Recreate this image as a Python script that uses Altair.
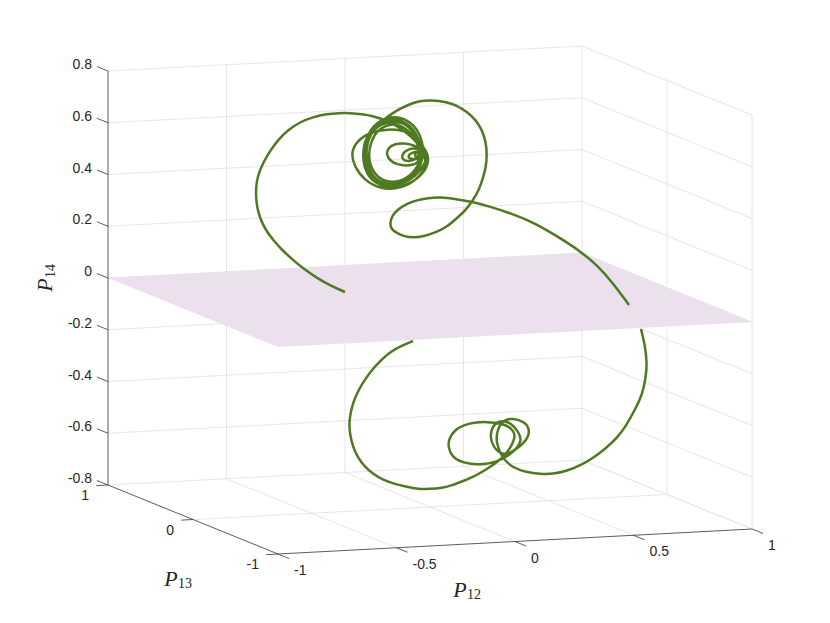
import altair as alt
import pandas as pd

# Axis ticks
p12_ticks = [-1, -0.5, 0, 0.5, 1]
p12_labels = ["-1", "-0.5", "0", "0.5", "1"]
p13_ticks = [-1, 0, 1]
p13_labels = ["-1", "0", "1"]
p14_ticks = [-0.8, -0.6, -0.4, -0.2, 0, 0.2, 0.4, 0.6, 0.8]
p14_labels = ["-0.8", "-0.6", "-0.4", "-0.2", "0", "0.2", "0.4", "0.6", "0.8"]

# Trajectory (view coordinates after the 3-D projection)
upper_x = [345, 331, 317, 304, 293, 282, 273, 265, 260, 257, 256, 256, 258, 263, 270, 278, 288, 300, 313, 327, 339, 350, 362, 373, 382, 390, 405, 418, 426,
           425, 414, 398, 380, 364, 354, 351, 357, 370, 388, 405, 418, 427, 429,
           425, 412, 396, 380, 368, 363, 363, 369, 380, 394, 408, 419, 424, 422, 411, 396, 381, 370, 365, 366, 373, 385, 400, 413, 421, 421, 411, 396, 382, 372, 368, 371, 378, 392, 405, 416, 420,
           421, 412, 398, 382, 370, 365, 364, 367, 377, 392, 406, 416, 422, 422, 413, 398, 383, 372, 367, 366, 370, 380, 394, 407, 416, 419,
           420, 414, 403, 392, 386, 388, 394, 404, 414, 420, 419, 410, 402, 402, 408, 417, 424, 423, 414, 408, 409, 416, 424, 425, 420, 413, 418, 426, 427,
           424, 416, 403, 388, 375, 366, 363, 365, 372, 383, 397, 410, 420, 430, 447, 458, 467, 476, 482, 486, 487, 486, 483, 479, 473, 466, 457, 448, 437, 425, 413, 403, 397, 391, 390, 392, 397, 406, 417, 428, 440, 456, 473, 491, 510, 535, 560, 580, 597, 613, 629]
upper_y = [292, 286, 278, 269, 260, 250, 240, 229, 218, 207, 197, 186, 175, 163, 151, 140, 130, 122, 117, 114, 113, 113, 114, 116, 119, 122, 131, 143, 155,
           170, 182, 189, 189, 180, 166, 152, 141, 132, 129, 130, 139, 152, 160,
           172, 183, 188, 186, 177, 163, 147, 131, 120, 116, 120, 131, 148, 165, 179, 185, 184, 174, 158, 143, 128, 119, 119, 128, 145, 162, 176, 183, 181, 171, 156, 141, 129, 123, 127, 139, 152,
           165, 178, 186, 186, 178, 165, 150, 135, 124, 120, 122, 132, 148, 163, 177, 184, 184, 176, 163, 148, 134, 124, 121, 124, 136, 150,
           161, 165, 166, 163, 155, 148, 144, 143, 145, 150, 157, 162, 160, 154, 149, 148, 152, 158, 160, 158, 154, 151, 152, 157, 159, 155, 152, 151, 158,
           165, 176, 184, 186, 180, 168, 150, 140, 130, 120, 110, 104, 101, 100, 102, 106, 112, 120, 130, 142, 155, 167, 178, 190, 200, 210, 218, 226, 232, 236, 238, 236, 233, 229, 223, 216, 210, 204, 200, 198, 197, 199, 202, 207, 213, 223, 238, 251, 265, 283, 305]
lower_x = [413, 401, 390, 380, 370, 362, 355, 351, 349, 350, 353, 358, 365, 373, 383, 395, 407, 418, 430, 442, 453, 463, 473, 482, 490, 497, 503, 508, 512, 515, 514, 510, 500, 487, 477, 463, 455, 449, 448,
           452, 463, 480, 497, 510, 518, 521, 520, 515, 507, 498, 492, 490, 493, 503, 514, 523, 529, 529, 525, 513, 503, 497, 496,
           502, 513, 526, 540, 553, 567, 581, 593, 605, 617, 626, 633, 640, 644, 646, 647, 645, 641]
lower_y = [341, 346, 352, 361, 372, 384, 397, 410, 423, 435, 447, 458, 467, 474, 480, 484, 487, 489, 489, 488, 485, 481, 477, 472, 467, 462, 457, 451, 445, 437, 432, 427, 423, 422, 422, 425, 430, 438, 447,
           457, 463, 465, 462, 455, 447, 441, 435, 427, 421, 421, 427, 437, 447, 456, 451, 444, 436, 428, 422, 418, 420, 430, 443,
           458, 468, 472, 474, 474, 471, 465, 458, 449, 438, 426, 413, 400, 387, 375, 363, 345, 329]


def px(u, v):
    return 430 + 237 * u - 85 * v


def py(u, v, w):
    return 300 - 12.5 * u - 34.5 * v - 258.75 * w


def segs(items):
    rows = []
    for k, pts in enumerate(items):
        for i, (u, v, w) in enumerate(pts):
            rows.append({"k": k, "i": i, "x": px(u, v), "y": py(u, v, w)})
    return pd.DataFrame(rows)


X = alt.X("x:Q", scale=alt.Scale(domain=[8, 822], nice=False, zero=False), axis=None)
Y = alt.Y("y:Q", scale=alt.Scale(domain=[608, 8], nice=False, zero=False), axis=None)


def lines(df, color, width):
    return alt.Chart(df).mark_line(color=color, strokeWidth=width, clip=False).encode(
        x=X, y=Y, detail="k:N", order="i:Q")


# Grid
grid = []
for w in p14_ticks:
    grid.append([(-1, 1, w), (1, 1, w), (1, -1, w)])
for u in p12_ticks[1:]:
    grid.append([(u, -1, -0.8), (u, 1, -0.8), (u, 1, 0.8)])
grid.append([(-1, 0, -0.8), (1, 0, -0.8), (1, 0, 0.8)])
grid.append([(1, -1, -0.8), (1, -1, 0.8)])
grid_layer = lines(segs(grid), "#e6e6e6", 1)

# Plane P14 = 0 as an area between its upper and lower edges
u_l, u_b, u_t, u_r = (-1, 1), (-1, -1), (1, 1), (1, -1)
xs = [px(*c) for c in (u_l, u_b, u_t, u_r)]
ys = [py(*c, 0) for c in (u_l, u_b, u_t, u_r)]


def interp(x, a, b):
    return ys[a] + (ys[b] - ys[a]) * (x - xs[a]) / (xs[b] - xs[a])


plane = pd.DataFrame({
    "x": xs,
    "y": [ys[0], interp(xs[1], 0, 2), ys[2], ys[3]],
    "y2": [ys[0], ys[1], interp(xs[2], 1, 3), ys[3]],
})
plane_layer = alt.Chart(plane).mark_area(color="#ecdfee", opacity=1).encode(x=X, y=Y, y2="y2:Q")

# Curves
upper = pd.DataFrame({"x": upper_x, "y": upper_y, "i": range(len(upper_x)), "k": 0})
lower = pd.DataFrame({"x": lower_x, "y": lower_y, "i": range(len(lower_x)), "k": 1})
curve = pd.concat([lower, upper])
curve_layer = alt.Chart(curve).mark_line(color="#4f7a21", strokeWidth=2.5, interpolate="basis").encode(
    x=X, y=Y, detail="k:N", order="i:Q")

# Axis lines and tick marks
axes = [[(-1, 1, -0.8), (-1, 1, 0.8)], [(-1, 1, -0.8), (-1, -1, -0.8), (1, -1, -0.8)]]
for w in p14_ticks:
    axes.append([(-1, 1, w), (-1, 1.13, w)])
for v in p13_ticks:
    axes.append([(-1, v, -0.8), (-1.05, v, -0.8)])
for u in p12_ticks:
    axes.append([(u, -1, -0.8), (u, -1.13, -0.8)])
axis_layer = lines(segs(axes), "#333333", 0.8)


# Tick labels
def tick_text(rows, align):
    return alt.Chart(pd.DataFrame(rows)).mark_text(
        font="Liberation Sans", fontSize=14, color="#262626", baseline="middle", align=align
    ).encode(x=X, y=Y, text="t:N")


z_labels = tick_text([{"x": px(-1, 1) - 16, "y": py(-1, 1, w) - 6, "t": t} for w, t in zip(p14_ticks, p14_labels)], "right")
x_labels = tick_text([{"x": px(u, -1) + 16, "y": py(u, -1, -0.8) + 17, "t": t} for u, t in zip(p12_ticks, p12_labels)], "left")
y_labels = tick_text([{"x": px(-1, v) - 19, "y": py(-1, v, -0.8) + 11, "t": t} for v, t in zip(p13_ticks, p13_labels)], "right")

# Axis titles
title_layers = []
for t, x, y, size, style in [("P", 460, 590, 22, "italic"), ("12", 474, 595, 14, "normal"),
                             ("P", 171, 579, 22, "italic"), ("13", 185, 584, 14, "normal")]:
    title_layers.append(alt.Chart(pd.DataFrame({"x": [x], "y": [y], "t": [t]})).mark_text(
        font="Liberation Serif", fontSize=size, fontStyle=style, color="#262626", baseline="middle", align="center"
    ).encode(x=X, y=Y, text="t:N"))
for t, x, y, size, style in [("P", 45, 285, 22, "italic"), ("14", 51, 271, 14, "normal")]:
    title_layers.append(alt.Chart(pd.DataFrame({"x": [x], "y": [y], "t": [t]})).mark_text(
        font="Liberation Serif", fontSize=size, fontStyle=style, color="#262626", baseline="middle", align="center",
        angle=270
    ).encode(x=X, y=Y, text="t:N"))

chart = alt.layer(grid_layer, plane_layer, curve_layer, axis_layer, z_labels, x_labels, y_labels, *title_layers).properties(
    width=814, height=600, padding=0, autosize=alt.AutoSizeParams(type="none")
).configure_view(stroke=None)

chart.save("out.html", embed_options={"renderer": "svg", "actions": False})
